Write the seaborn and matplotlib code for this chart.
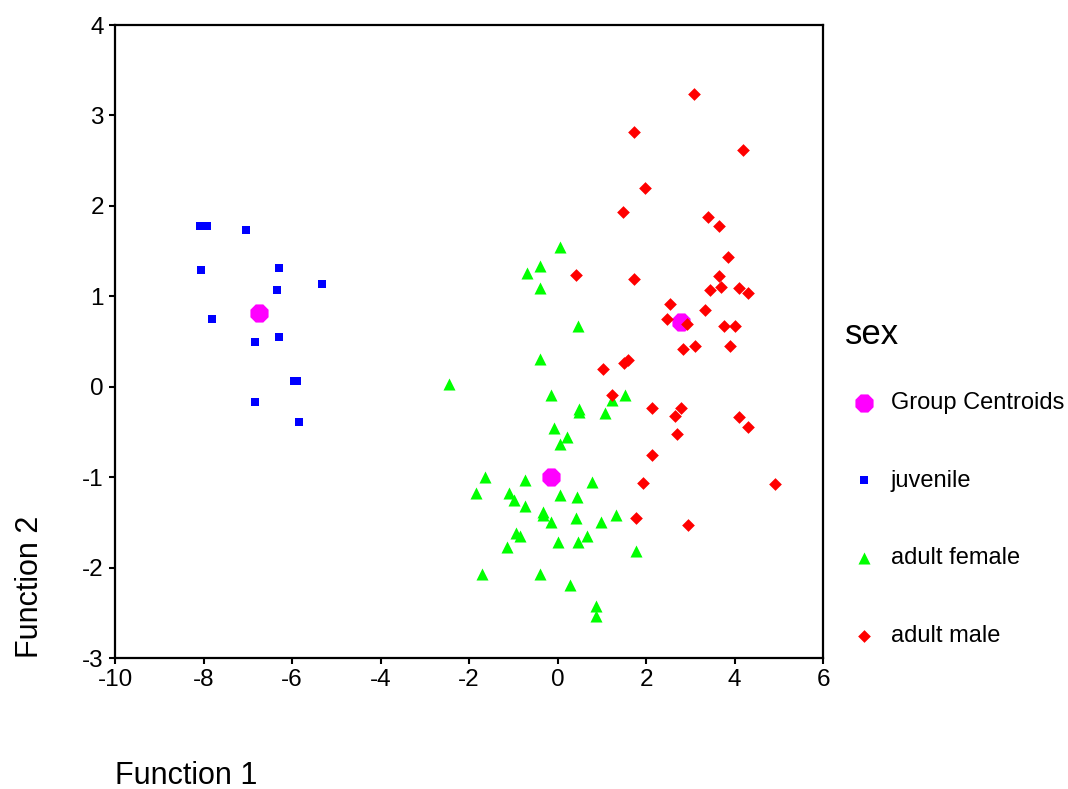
import numpy as np
import pandas as pd
import matplotlib
matplotlib.use("Agg")
import matplotlib.pyplot as plt
import seaborn as sns

# discriminant scores
juv_f1 = [-8.08, -7.93, -7.05, -8.06, -6.29, -5.33, -6.34, -7.80, -6.84, -6.29,
          -5.95, -5.88, -6.84, -5.84]
juv_f2 = [1.78, 1.78, 1.73, 1.29, 1.31, 1.14, 1.07, 0.75, 0.50, 0.55,
          0.06, 0.06, -0.17, -0.39]

fem_f1 = [0.06, -0.39, -0.69, -0.39, 0.47, -0.39, -2.45, -0.14, 0.48, 0.49,
          1.07, 1.23, 1.53, -0.09, 0.21, 0.06, -1.65, -0.74, 0.77, -1.85,
          -1.10, -0.99, 0.06, 0.43, -0.74, -0.34, -0.34, -0.14, 0.42, 0.98,
          1.32, -0.94, -0.85, 0.67, 0.02, 0.47, -1.14, 1.78, -1.70, -0.39,
          0.27, 0.87, 0.87]
fem_f2 = [1.54, 1.34, 1.26, 1.09, 0.67, 0.31, 0.03, -0.09, -0.25, -0.28,
          -0.29, -0.15, -0.09, -0.46, -0.56, -0.63, -1.00, -1.03, -1.05, -1.17,
          -1.17, -1.25, -1.20, -1.22, -1.32, -1.38, -1.42, -1.50, -1.45, -1.50,
          -1.42, -1.62, -1.65, -1.65, -1.72, -1.72, -1.77, -1.82, -2.07, -2.07,
          -2.19, -2.43, -2.53]

male_f1 = [3.09, 1.73, 4.19, 1.98, 1.48, 3.39, 3.65, 3.84, 0.42, 1.73,
           3.64, 3.70, 3.44, 4.10, 4.30, 2.54, 3.34, 2.48, 2.93, 3.75,
           4.00, 2.84, 3.10, 3.90, 1.59, 1.49, 1.02, 1.22, 2.14, 2.78,
           2.65, 4.10, 4.31, 2.69, 2.14, 1.93, 4.91, 1.78, 2.94]
male_f2 = [3.24, 2.82, 2.62, 2.20, 1.93, 1.88, 1.78, 1.43, 1.24, 1.19,
           1.22, 1.10, 1.07, 1.09, 1.04, 0.92, 0.85, 0.75, 0.69, 0.67,
           0.67, 0.42, 0.45, 0.45, 0.30, 0.26, 0.20, -0.09, -0.24, -0.24,
           -0.32, -0.34, -0.44, -0.52, -0.76, -1.06, -1.08, -1.45, -1.53]

cent_f1 = [-6.75, -0.14, 2.79]
cent_f2 = [0.82, -1.00, 0.72]

groups = ["Group Centroids", "juvenile", "adult female", "adult male"]

df = pd.concat([
    pd.DataFrame({"f1": cent_f1, "f2": cent_f2, "sex": groups[0]}),
    pd.DataFrame({"f1": juv_f1, "f2": juv_f2, "sex": groups[1]}),
    pd.DataFrame({"f1": fem_f1, "f2": fem_f2, "sex": groups[2]}),
    pd.DataFrame({"f1": male_f1, "f2": male_f2, "sex": groups[3]}),
])

sns.set_style("white")
plt.rcParams["font.family"] = ["Liberation Sans", "DejaVu Sans"]
plt.rcParams["axes.unicode_minus"] = False
plt.rcParams["text.color"] = "black"
plt.rcParams["axes.labelcolor"] = "black"

colors = {"Group Centroids": "#ff00ff", "juvenile": "#0000ff",
          "adult female": "#00ff00", "adult male": "#ff0000"}
markers = {"Group Centroids": "8", "juvenile": "s",
           "adult female": "^", "adult male": "D"}
sizes = {"Group Centroids": 200, "juvenile": 38,
         "adult female": 75, "adult male": 42}

fig = plt.figure(figsize=(10.68, 7.89), dpi=100)
ax = fig.add_axes([0.1077, 0.166, 0.663, 0.8023])

for g in groups:
    sub = df[df["sex"] == g]
    sns.scatterplot(data=sub, x="f1", y="f2", ax=ax, color=colors[g],
                    marker=markers[g], s=sizes[g], linewidth=0, label=g)

ax.set_xlim(-10, 6)
ax.set_ylim(-3, 4)
ax.set_xticks(range(-10, 7, 2))
ax.set_yticks(range(-3, 5))
for sp in ax.spines.values():
    sp.set_linewidth(1.6)
    sp.set_color("black")
ax.tick_params(axis="both", direction="out", length=4.5, width=1.5,
               labelsize=17.5, colors="black", bottom=True, left=True)
ax.set_xlabel("Function 1", fontsize=22, loc="left", labelpad=50, color="black")
ax.set_ylabel("Function 2", fontsize=22, loc="bottom", labelpad=26.5, color="black")

leg = ax.legend(title="sex", loc="upper left", bbox_to_anchor=(0.780, 0.612),
                bbox_transform=fig.transFigure, frameon=False, fontsize=17,
                title_fontsize=25, labelspacing=2.36, handletextpad=0.34,
                handlelength=1.6, borderpad=0)
leg._legend_box.align = "left"
leg._legend_box.sep = 29.5

fig.savefig("out.png", dpi=100)
